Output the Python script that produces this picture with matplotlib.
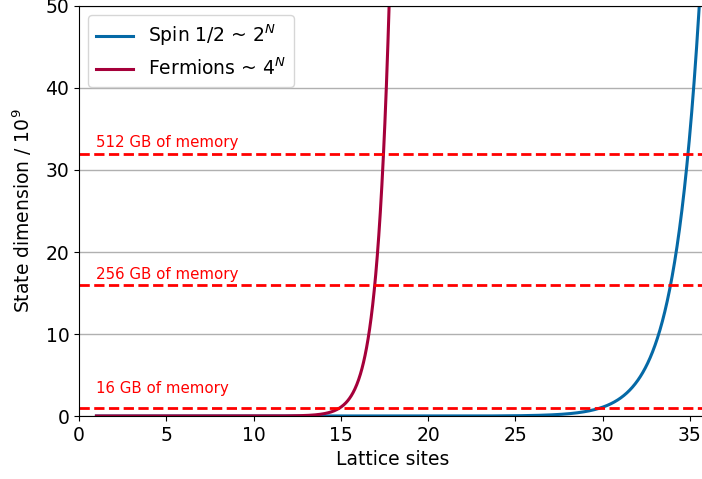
import numpy as np
import matplotlib.pyplot as plt

# hilbert space dimension per lattice site
bases = [2, 4]
labels = ['Spin 1/2 ~ $2^N$', 'Fermions ~ $4^N$']
colors = ['#0569a6', '#a5003a']

# memory limits (in units of 10^9 states, complex double = 16 bytes)
mem_levels = [1, 16, 32]
mem_labels = ['16 GB of memory', '256 GB of memory', '512 GB of memory']

sites = np.linspace(1, 36, 2000)

fig = plt.figure(figsize=(7.02, 4.79), dpi=100)
ax = fig.add_axes([0.1125, 0.1315, 0.895, 0.856])

for b, lab, c in zip(bases, labels, colors):
    ax.plot(sites, b ** sites / 1e9, color=c, lw=2.2, label=lab)

text_offset = [1.85, 0.75, 0.85]  # label placement above each line
for lvl, txt, off in zip(mem_levels, mem_labels, text_offset):
    ax.axhline(lvl, color='red', ls='--', lw=2)
    ax.text(1, lvl + off, txt, color='red', fontsize=10.8)

ax.set_xlim(0, 36)
ax.set_ylim(0, 50)
ax.set_xticks([0, 5, 10, 15, 20, 25, 30, 35])
ax.yaxis.grid(True, color='#b0b0b0', lw=1)
ax.set_axisbelow(True)
ax.spines['right'].set_visible(False)
ax.tick_params(labelsize=13.5)
ax.set_xlabel('Lattice sites', fontsize=13.5)
ax.set_ylabel('State dimension / $10^9$', fontsize=13.5, labelpad=8)
ax.legend(loc='upper left', fontsize=13.5)

fig.savefig('out.png', dpi=100)
